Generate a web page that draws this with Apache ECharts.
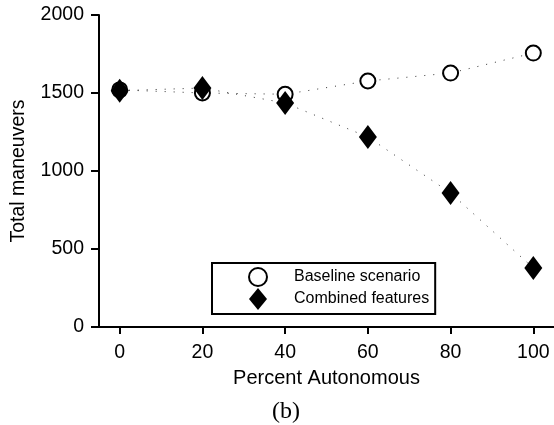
<!DOCTYPE html>
<html><head><meta charset="utf-8">
<script src="https://cdn.jsdelivr.net/npm/echarts@6/dist/echarts.min.js"></script>
<style>html,body{margin:0;padding:0;background:#fff}#c{width:554px;height:425px}</style>
</head><body><div id="c"></div>
<script>
const percent = [0, 20, 40, 60, 80, 100];
const baseline = [1520, 1500, 1492, 1577, 1628, 1756];
const combined = [1515, 1532, 1436, 1218, 859, 378];
const yTicks = [0, 500, 1000, 1500, 2000];
const xTicks = [0, 20, 40, 60, 80, 100];

const font = 'Liberation Sans';
const chart = echarts.init(document.getElementById('c'), null, {renderer: 'canvas'});
chart.setOption({
  animation: false,
  backgroundColor: '#fff',
  grid: {left: 99, top: 15, right: -3, bottom: 98, containLabel: false},
  xAxis: {
    type: 'value', min: -5, max: 105, interval: 5,
    axisLine: {show: true, onZero: false, lineStyle: {color: '#000', width: 2}},
    axisTick: {show: true, length: 7, lineStyle: {color: '#000', width: 2},
      customValues: xTicks},
    axisLabel: {color: '#000', fontFamily: font, fontSize: 19.5, margin: 16,
      customValues: xTicks},
    splitLine: {show: false},
    name: 'Percent Autonomous', nameLocation: 'middle', nameGap: 41,
    nameTextStyle: {color: '#000', fontFamily: font, fontSize: 20}
  },
  yAxis: {
    type: 'value', min: 0, max: 2000, interval: 500,
    axisLine: {show: true, onZero: false, lineStyle: {color: '#000', width: 2}},
    axisTick: {show: true, length: 8, lineStyle: {color: '#000', width: 2},
      customValues: yTicks},
    axisLabel: {color: '#000', fontFamily: font, fontSize: 19.5, margin: 15,
      customValues: yTicks, formatter: v => String(v)},
    splitLine: {show: false},
    name: 'Total maneuvers', nameLocation: 'middle', nameGap: 70,
    nameTextStyle: {color: '#000', fontFamily: font, fontSize: 19.5}
  },
  legend: {
    orient: 'vertical', left: 212, top: 263,
    padding: [4, 6, 4, 36], itemGap: 1,
    itemWidth: 18, itemHeight: 22,
    borderColor: '#000', borderWidth: 2, borderRadius: 0,
    textStyle: {color: '#000', fontFamily: font, fontSize: 16, padding: [0, 0, 0, 22]},
    data: [
      {name: 'Baseline scenario', icon: 'circle',
       itemStyle: {color: '#fff', borderColor: '#000', borderWidth: 2}},
      {name: 'Combined features', icon: 'diamond',
       itemStyle: {color: '#000', borderWidth: 0}}
    ]
  },
  series: [
    {
      name: 'Baseline scenario', type: 'line',
      data: percent.map((p, i) => [p, baseline[i]]),
      symbol: 'circle', symbolSize: 15,
      itemStyle: {color: '#fff', borderColor: '#000', borderWidth: 2},
      lineStyle: {color: '#333', width: 1, type: [1, 8]},
      z: 2
    },
    {
      name: 'Combined features', type: 'line',
      data: percent.map((p, i) => [p, combined[i]]),
      symbol: 'diamond', symbolSize: [18, 24],
      itemStyle: {color: '#000', borderWidth: 0},
      lineStyle: {color: '#333', width: 1, type: [1, 8]},
      z: 3
    }
  ],
  graphic: [{
    type: 'text', x: 286, y: 412,
    style: {text: '(b)', fill: '#000', font: '24px "Liberation Serif"',
      textAlign: 'center', textVerticalAlign: 'middle'}
  }]
});
</script></body></html>
